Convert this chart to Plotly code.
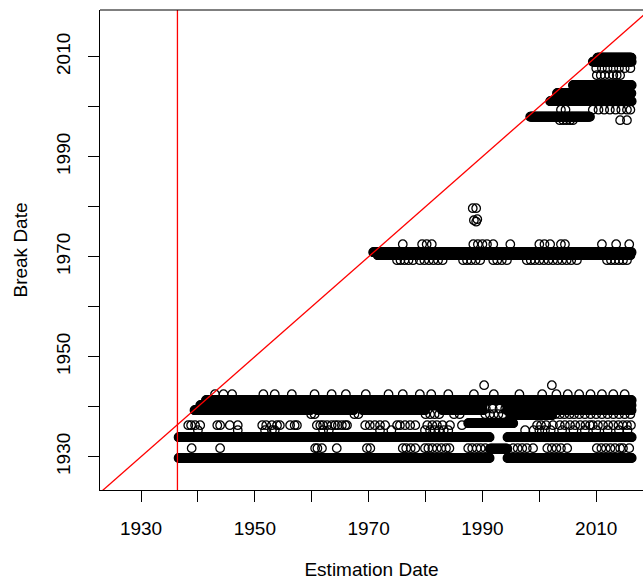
import numpy as np
import plotly.graph_objects as go

# ---- continuous bands of estimated breaks: (break date, first estimation date, last estimation date)
band_break = [1929.75, 1929.75, 1933.9, 1933.9, 1931.6, 1936.7,
              1939.3, 1939.3, 1939.3, 1939.3, 1939.3,
              1940.3, 1940.3, 1941.3, 1938.3,
              1970.9, 1970.3,
              1998.0, 2001.1, 2002.7, 2004.3, 2009.0, 2009.8]
band_start = [1936.6, 1994.4, 1936.6, 1994.4, 1991.3, 1987.5,
              1939.4, 1961.0, 1969.0, 1983.0, 1994.3,
              1940.4, 1994.3, 1941.4, 1994.9,
              1970.8, 1971.6,
              1998.4, 2001.9, 2003.1, 2005.9, 2009.4, 2010.2]
band_end = [1991.3, 2016.2, 1991.3, 2016.2, 1994.4, 1995.4,
            1959.7, 1967.3, 1979.9, 1990.1, 2016.2,
            1990.1, 2016.2, 2016.2, 2002.2,
            2016.2, 2016.0,
            2008.9, 2016.2, 2016.2, 2016.2, 2016.2, 2016.2]

# ---- scattered estimates (estimation date, break date)
row_1931_est = [1938.9, 1943.9, 1960.6, 1961.0, 1961.8, 1964.4, 1969.7, 1970.3, 1976.0,
                1976.6, 1977.4, 1978.2, 1979.9, 1980.5, 1981.2, 1982.0, 1982.8, 1983.6,
                1984.2, 1987.5, 1988.2, 1989.0, 1989.7, 1990.5, 1995.4, 1996.2, 1997.0,
                1997.8, 1998.9, 2001.4, 2002.2, 2003.0, 2003.8, 2004.9, 2010.1, 2010.9,
                2011.7, 2012.5, 2013.3, 2014.2, 2014.7, 2015.8]
row_1936_est = [1938.3, 1938.8, 1939.5, 1940.4, 1943.4, 1943.9, 1945.6, 1947.0, 1951.3,
                1952.0, 1953.0, 1953.9, 1954.4, 1956.2, 1957.0, 1957.4, 1960.9, 1961.5,
                1962.0, 1962.7, 1963.5, 1964.1, 1964.6, 1965.3, 1965.9, 1966.2, 1969.4,
                1970.2, 1971.1, 1972.0, 1972.9, 1975.0, 1975.5, 1976.4, 1977.3, 1978.2,
                1980.3, 1981.2, 1982.0, 1983.0, 1984.3, 1986.4, 1999.6, 2000.3, 2001.2,
                2002.4, 2003.6, 2004.5, 2005.4, 2006.3, 2007.2, 2008.1, 2008.9, 2009.4,
                2010.3, 2011.2, 2012.1, 2013.0, 2013.9, 2014.7, 2015.4, 2016.1]
row_1935_est = [1940.0, 1947.0, 1951.8, 1953.0, 1953.5, 1962.0, 1963.0, 1972.0, 1974.0,
                1979.9, 1980.8, 1981.6, 1982.4, 1983.2, 1984.0, 1997.5, 1999.0, 2000.0,
                2001.0, 2002.0, 2004.0, 2006.0, 2008.0, 2010.0, 2012.0, 2014.0, 2015.5]
row_1938_est = [1959.9, 1960.5, 1967.5, 1968.2, 1980.0, 1980.8, 1981.6, 1982.4, 1985.0,
                1986.0, 1990.5, 1991.3, 1992.0, 1992.8, 1993.6, 2002.8, 2003.6, 2004.4,
                2005.3, 2006.1, 2007.0, 2008.0, 2009.0, 2010.0, 2011.0, 2012.0, 2013.0,
                2014.0, 2015.0, 2016.0]
row_1939_est = [1990.6, 1991.8, 1993.0, 1994.0]
row_1942_est = [1943.0, 1944.5, 1946.0, 1951.5, 1953.5, 1956.5, 1960.5, 1963.5, 1966.0,
                1969.5, 1973.5, 1976.0, 1979.0, 1981.0, 1984.0, 1988.5, 1992.0, 1996.5,
                2000.5, 2003.0, 2005.0, 2007.0, 2009.0, 2011.0, 2013.0, 2015.0]
row_1969_est = [1975.0, 1975.6, 1976.3, 1977.0, 1977.8, 1979.0, 1979.8, 1980.6, 1981.4,
                1982.2, 1983.0, 1986.6, 1987.3, 1988.0, 1988.8, 1989.6, 1991.9, 1992.6,
                1993.4, 1994.3, 1997.8, 1998.5, 1999.2, 2000.0, 2000.8, 2001.6, 2002.4,
                2003.2, 2004.0, 2004.8, 2005.6, 2006.6, 2011.9, 2012.6, 2013.3, 2014.0,
                2014.7, 2015.4]
row_1972_est = [1976.0, 1979.4, 1980.2, 1981.1, 1988.4, 1989.2, 1990.0, 1990.8, 1991.9,
                1994.9, 2000.0, 2000.9, 2001.9, 2003.8, 2004.5, 2011.0, 2013.5, 2015.8]
row_1999_est = [2003.8, 2004.6, 2009.4, 2010.4, 2011.4, 2012.4, 2013.4, 2014.4, 2015.4, 2016.0]
row_1997_est = [2003.6, 2004.2, 2004.8, 2005.4, 2005.9, 2014.2, 2015.4]
row_2006_est = [2010.1, 2010.8, 2011.5, 2012.3, 2013.0, 2013.6, 2014.2]
row_2008_est = [2010.0, 2011.0, 2012.0, 2013.0, 2014.0, 2015.0, 2016.0]
row_levels = [1931.7, 1936.3, 1935.3, 1938.5, 1939.6, 1942.5, 1969.3, 1972.5,
              1999.4, 1997.3, 2006.3, 2007.7]
row_lists = [row_1931_est, row_1936_est, row_1935_est, row_1938_est, row_1939_est,
             row_1942_est, row_1969_est, row_1972_est, row_1999_est, row_1997_est,
             row_2006_est, row_2008_est]

lone_est = [1990.3, 2002.2, 1988.3, 1988.9, 1988.5, 1988.9, 1989.1]
lone_break = [1944.3, 1944.3, 1979.7, 1979.7, 1977.3, 1977.0, 1977.5]

first_estimate = 1936.4
xlim = [1922.79, 2018.22]
ylim = [1923.34, 2019.34]

# assemble all points (monthly estimation dates inside each band)
xs, ys = [], []
for b, s, e in zip(band_break, band_start, band_end):
    n = int(round((e - s) * 12)) + 1
    est = s + np.arange(n) / 12.0
    xs.extend(est.tolist())
    ys.extend([b] * n)
for lvl, lst in zip(row_levels, row_lists):
    xs.extend(lst)
    ys.extend([lvl] * len(lst))
xs.extend(lone_est)
ys.extend(lone_break)

font = dict(family="Liberation Sans, Arial, sans-serif", size=19, color="black")

fig = go.Figure()
fig.add_trace(go.Scatter(
    x=xs, y=ys, mode="markers",
    marker=dict(symbol="circle-open", size=8.5, color="black", line=dict(width=1.3)),
    hoverinfo="skip", showlegend=False))
# 45-degree reference line
fig.add_trace(go.Scatter(
    x=[1900, 2030], y=[1900, 2030], mode="lines",
    line=dict(color="#ff0000", width=1.3), hoverinfo="skip", showlegend=False))

# vertical line at the first estimation date
fig.add_shape(type="line", xref="x", yref="paper", x0=first_estimate, x1=first_estimate,
              y0=0, y1=1, line=dict(color="#ff0000", width=1.3), layer="above")
# top border of the plot box
fig.add_shape(type="line", xref="paper", yref="paper", x0=0, x1=1, y0=1, y1=1,
              line=dict(color="black", width=1), layer="above")

tick_vals = list(range(1930, 2011, 10))
tick_text = [str(v) if (v - 1930) % 20 == 0 else "" for v in tick_vals]

fig.update_layout(
    width=643, height=583,
    margin=dict(l=100, r=0, t=10, b=93),
    paper_bgcolor="white", plot_bgcolor="white",
    font=font,
    xaxis=dict(range=xlim, tickmode="array", tickvals=tick_vals, ticktext=tick_text,
               ticks="outside", ticklen=11, tickwidth=1, tickcolor="black",
               showline=True, linecolor="black", linewidth=1,
               showgrid=False, zeroline=False, ticklabelstandoff=10,
               title=dict(text="Estimation Date", font=font, standoff=24),
               automargin=False),
    yaxis=dict(range=ylim, tickmode="array", tickvals=tick_vals, ticktext=tick_text,
               ticks="outside", ticklen=11, tickwidth=1, tickcolor="black",
               tickangle=-90,
               showline=True, linecolor="black", linewidth=1,
               showgrid=False, zeroline=False, ticklabelstandoff=10,
               title=dict(text="Break Date", font=font, standoff=20),
               automargin=False),
)

fig.write_html("out.html")
